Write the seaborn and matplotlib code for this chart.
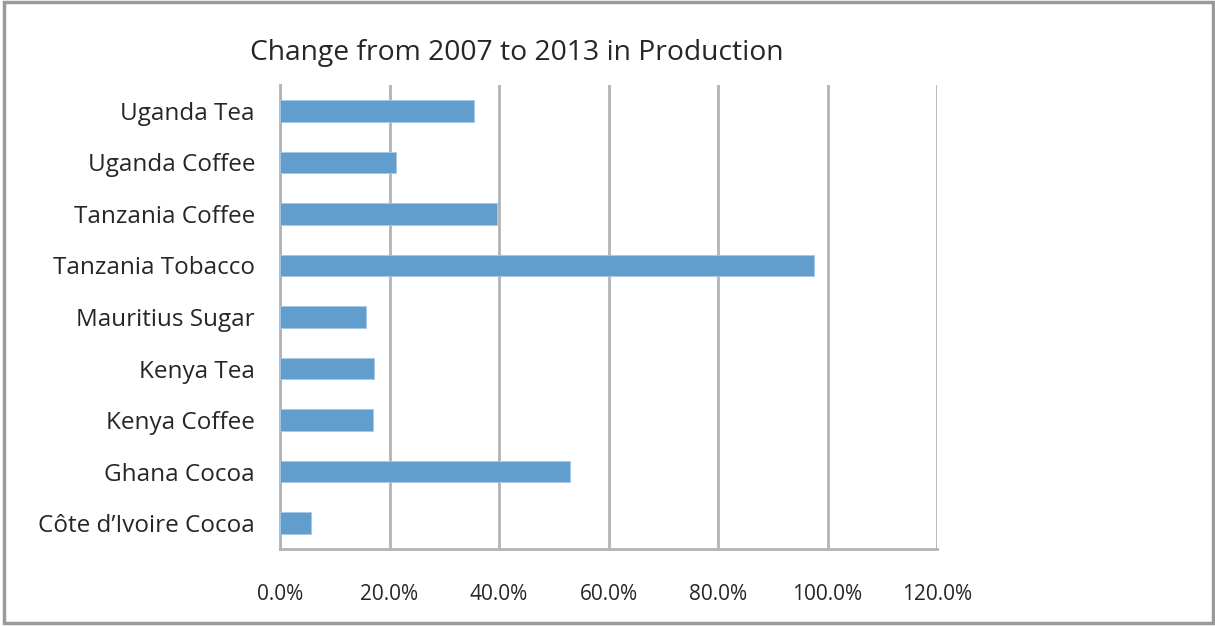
import matplotlib
matplotlib.use("Agg")
import matplotlib.pyplot as plt
from matplotlib.patches import Rectangle
from matplotlib.ticker import PercentFormatter, MultipleLocator
import seaborn as sns
import pandas as pd

# Commodities, listed top to bottom
commodities = [
    "Uganda Tea",
    "Uganda Coffee",
    "Tanzania Coffee",
    "Tanzania Tobacco",
    "Mauritius Sugar",
    "Kenya Tea",
    "Kenya Coffee",
    "Ghana Cocoa",
    "Côte d\u2019Ivoire Cocoa",
]
# Percentage change in production, 2007 -> 2013
change_pct = [35.4, 21.2, 39.7, 97.5, 15.7, 17.2, 16.9, 53.0, 5.6]

title = "Change from 2007 to 2013 in Production"

df = pd.DataFrame({"commodity": commodities, "change": change_pct})

sns.set_theme(style="white")
plt.rcParams["font.family"] = ["Open Sans", "DejaVu Sans"]

W, H = 1215, 626
fig = plt.figure(figsize=(W / 100, H / 100), dpi=100)
ax = fig.add_axes([280 / W, 1 - 549 / H, (937 - 280) / W, (549 - 85) / H])

bar_color = "#619dcd"
grid_color = "#b3b3b6"
text_color = "#262626"

sns.barplot(data=df, x="change", y="commodity", order=commodities,
            orient="h", color=bar_color, width=0.42, saturation=1,
            edgecolor="#a9c8e4", linewidth=0.6, ax=ax, zorder=3)

ax.set_xlim(0, 120)
ax.xaxis.set_major_locator(MultipleLocator(20))
ax.xaxis.set_major_formatter(PercentFormatter(100, decimals=1))
ax.set_xlabel("")
ax.set_ylabel("")

ax.grid(axis="x", color=grid_color, linewidth=2.0, zorder=0)
ax.grid(axis="y", visible=False)
ax.set_axisbelow(True)

for side in ("top", "right"):
    ax.spines[side].set_visible(False)
for side in ("left", "bottom"):
    ax.spines[side].set_color(grid_color)
    ax.spines[side].set_linewidth(2.0)

ax.tick_params(axis="x", which="major", direction="out", length=4, width=1.5,
               color=grid_color, pad=21, labelsize=15, labelcolor=text_color)
ax.tick_params(axis="y", length=0, pad=18, labelsize=17.5, labelcolor=text_color)

fig.text(517 / W, 1 - 53 / H, title, ha="center", va="center",
         fontsize=20.3, color=text_color)

# Grey frame round the whole figure
fig.patches.append(Rectangle((0.003, 0.004), 0.995, 0.993, transform=fig.transFigure,
                             fill=False, edgecolor="#9a9a9c", linewidth=2.5))

fig.savefig("out.png", dpi=100, facecolor="white")
